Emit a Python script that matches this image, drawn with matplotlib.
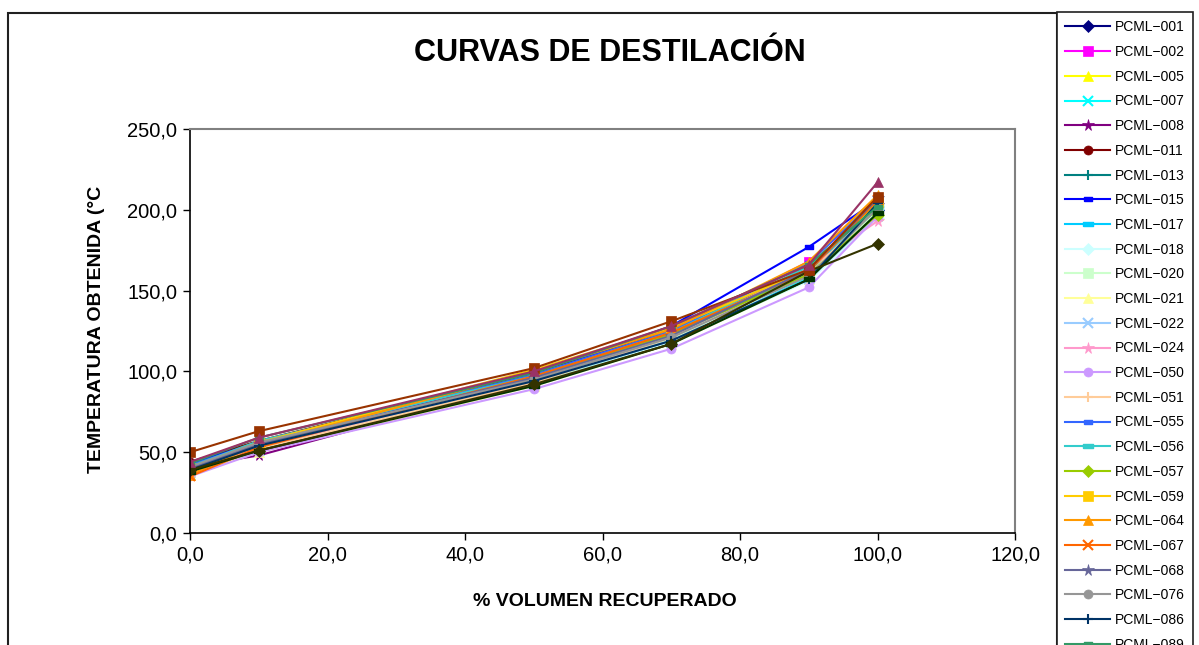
import matplotlib
matplotlib.use("Agg")
import matplotlib.pyplot as plt
from matplotlib.ticker import FuncFormatter, MultipleLocator
from matplotlib.patches import Rectangle

plt.rcParams['font.family'] = ['Liberation Sans', 'DejaVu Sans']

# % volumen recuperado
volumen = [0, 10, 50, 70, 90, 100]

muestras = ['PCML−001', 'PCML−002', 'PCML−005', 'PCML−007', 'PCML−008',
            'PCML−011', 'PCML−013', 'PCML−015', 'PCML−017', 'PCML−018',
            'PCML−020', 'PCML−021', 'PCML−022', 'PCML−024', 'PCML−050',
            'PCML−051', 'PCML−055', 'PCML−056', 'PCML−057', 'PCML−059',
            'PCML−064', 'PCML−067', 'PCML−068', 'PCML−076', 'PCML−086',
            'PCML−089', 'PCML−090', 'PCML−091', 'PCML−093', 'PCML−095']

# temperatura obtenida (°C) para cada muestra
temperaturas = [
    [40, 53, 95, 120, 162, 200],
    [42, 55, 97, 124, 168, 205],
    [38, 52, 96, 122, 160, 198],
    [36, 51, 92, 118, 158, 196],
    [41, 48, 94, 121, 165, 203],
    [44, 57, 99, 126, 163, 204],
    [40, 55, 96, 123, 161, 200],
    [43, 56, 97, 128, 177, 206],
    [39, 54, 95, 121, 162, 201],
    [37, 52, 92, 118, 156, 195],
    [38, 53, 93, 120, 160, 199],
    [36, 50, 91, 117, 157, 197],
    [40, 54, 94, 119, 157, 197],
    [39, 53, 95, 122, 164, 193],
    [35, 50, 89, 114, 152, 196],
    [37, 52, 93, 121, 160, 202],
    [42, 56, 98, 125, 167, 207],
    [41, 57, 97, 124, 165, 203],
    [39, 54, 96, 123, 160, 197],
    [40, 56, 101, 127, 163, 205],
    [36, 55, 100, 126, 168, 209],
    [35, 53, 97, 124, 162, 206],
    [40, 55, 96, 122, 163, 207],
    [41, 56, 95, 121, 159, 201],
    [39, 54, 94, 119, 157, 204],
    [43, 59, 99, 128, 166, 202],
    [38, 51, 91, 117, 157, 198],
    [39, 51, 92, 117, 162, 179],
    [50, 63, 102, 131, 163, 208],
    [44, 59, 100, 128, 166, 217],
]

# colores por defecto de Excel
colores = ['#000080', '#FF00FF', '#FFFF00', '#00FFFF', '#800080', '#800000',
           '#008080', '#0000FF', '#00CCFF', '#CCFFFF', '#CCFFCC', '#FFFF99',
           '#99CCFF', '#FF99CC', '#CC99FF', '#FFCC99', '#3366FF', '#33CCCC',
           '#99CC00', '#FFCC00', '#FF9900', '#FF6600', '#666699', '#969696',
           '#003366', '#339966', '#003300', '#333300', '#993300', '#993366']

guion_corto = [(-1, -0.45), (1, -0.45), (1, 0.45), (-1, 0.45), (-1, -0.45)]
guion_largo = [(-1.6, -0.55), (1.6, -0.55), (1.6, 0.55), (-1.6, 0.55), (-1.6, -0.55)]
marcadores = ['D', 's', '^', 'x', '*', 'o', '+', guion_corto, guion_largo]
tamanos = {'D': 6, 's': 6.5, '^': 7.5, 'x': 7, '*': 8.5, 'o': 6.5, '+': 7.5}

fig = plt.figure(figsize=(11.99, 6.45), dpi=100)
ax = fig.add_axes([190 / 1199, 1 - 533 / 645, 825 / 1199, 404 / 645])

for i, (nombre, temps) in enumerate(zip(muestras, temperaturas)):
    m = marcadores[i % len(marcadores)]
    if isinstance(m, list):
        ms = 5.5 if m is guion_corto else 6.5
        ax.plot(volumen, temps, color=colores[i], lw=1.5, marker=m, ms=ms,
                mec=colores[i], mfc=colores[i], label=nombre)
    else:
        ax.plot(volumen, temps, color=colores[i], lw=1.5, marker=m,
                ms=tamanos[m], mec=colores[i], mfc=colores[i],
                mew=1.5 if m in ('x', '+') else 0.5, label=nombre)

ax.set_xlim(0, 120)
ax.set_ylim(0, 250)
ax.xaxis.set_major_locator(MultipleLocator(20))
ax.yaxis.set_major_locator(MultipleLocator(50))
coma = FuncFormatter(lambda v, p: f"{v:.1f}".replace('.', ','))
ax.xaxis.set_major_formatter(coma)
ax.yaxis.set_major_formatter(coma)
ax.tick_params(direction='out', length=5, width=1, labelsize=14.5, pad=4)
ax.spines['top'].set_color('#808080')
ax.spines['right'].set_color('#808080')
ax.spines['top'].set_linewidth(1.5)
ax.spines['right'].set_linewidth(1.5)
ax.spines['left'].set_linewidth(1.2)
ax.spines['bottom'].set_linewidth(1.2)

fig.text(610 / 1199, 1 - 53 / 645, 'CURVAS DE DESTILACIÓN', fontsize=22,
         fontweight='bold', ha='center', va='center')
fig.text(97 / 1199, 1 - 329 / 645, 'TEMPERATURA OBTENIDA (°C', fontsize=14,
         fontweight='bold', ha='center', va='center', rotation=90)
fig.text(605 / 1199, 1 - 602 / 645, '% VOLUMEN RECUPERADO', fontsize=14,
         fontweight='bold', ha='center', va='center')

# borde del area del grafico
fig.patches.append(Rectangle((8 / 1199, -0.1), 1049 / 1199, 1.1 - 13 / 645,
                             transform=fig.transFigure, fill=False,
                             ec='#202020', lw=1.5))

leg = fig.legend(loc='upper left', bbox_to_anchor=(1057 / 1199, 1 - 12 / 645),
                 fontsize=10, handlelength=3.2, handletextpad=0.35,
                 labelspacing=0.77, borderpad=0.6, borderaxespad=0,
                 fancybox=False, framealpha=1, edgecolor='#202020',
                 markerscale=1.0)
leg.get_frame().set_linewidth(1.2)

fig.savefig('out.png', dpi=100)
